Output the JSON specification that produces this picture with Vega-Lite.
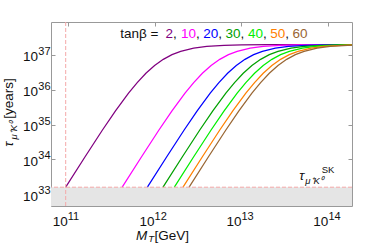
{
  "$schema": "https://vega.github.io/schema/vega-lite/v6.json",
  "width": 301,
  "height": 184,
  "autosize": {"type": "none"},
  "padding": {"left": 51, "top": 22, "right": 22, "bottom": 40},
  "config": {
    "view": {"stroke": "#999999", "strokeWidth": 1},
    "text": {"font": "Liberation Sans", "color": "#111111"},
    "axis": {"labels": false, "tickColor": "#999999", "tickSize": -4, "domain": false, "grid": false, "title": null}
  },
  "resolve": {"axis": {"x": "independent", "y": "independent"}},
  "datasets": {
    "xticks": [{"v": 1e11, "e": "11"}, {"v": 1e12, "e": "12"}, {"v": 1e13, "e": "13"}, {"v": 1e14, "e": "14"}],
    "yticks": [{"v": 1e33, "e": "33"}, {"v": 1e34, "e": "34"}, {"v": 1e35, "e": "35"}, {"v": 1e36, "e": "36"}, {"v": 1e37, "e": "37"}]
  },
  "layer": [
    {
      "data": {"values": [{"sk": 1.6e33}]},
      "mark": {"type": "rect", "color": "#e5e5e5"},
      "encoding": {
        "x": {"datum": 6.424e10, "type": "quantitative", "axis": null},
        "x2": {"datum": 1.869e14},
        "y": {"field": "sk", "type": "quantitative", "axis": null},
        "y2": {"datum": 4.613e32}
      }
    },
    {
      "data": {"values": [
        {"t": "2", "M": 9.484e10, "tau": 1.6e33}, {"t": "2", "M": 1.585e11, "tau": 1.198e34}, {"t": "2", "M": 2.512e11, "tau": 7.027e34}, {"t": "2", "M": 3.548e11, "tau": 2.495e35}, {"t": "2", "M": 5.012e11, "tau": 8.042e35}, {"t": "2", "M": 6.31e11, "tau": 1.618e36}, {"t": "2", "M": 7.943e11, "tau": 2.986e36}, {"t": "2", "M": 1.0e12, "tau": 4.989e36}, {"t": "2", "M": 1.259e12, "tau": 7.499e36}, {"t": "2", "M": 1.585e12, "tau": 1.0205e37}, {"t": "2", "M": 1.995e12, "tau": 1.2747e37}, {"t": "2", "M": 2.818e12, "tau": 1.574e37}, {"t": "2", "M": 3.981e12, "tau": 1.766e37}, {"t": "2", "M": 6.31e12, "tau": 1.899e37}, {"t": "2", "M": 1.0e13, "tau": 1.956e37}, {"t": "2", "M": 1.995e13, "tau": 1.985e37}, {"t": "2", "M": 5.012e13, "tau": 1.995e37}, {"t": "2", "M": 1.869e14, "tau": 1.995e37},
        {"t": "10", "M": 4.236e11, "tau": 1.6e33}, {"t": "10", "M": 7.079e11, "tau": 1.198e34}, {"t": "10", "M": 1.122e12, "tau": 7.027e34}, {"t": "10", "M": 1.585e12, "tau": 2.495e35}, {"t": "10", "M": 2.239e12, "tau": 8.042e35}, {"t": "10", "M": 2.818e12, "tau": 1.618e36}, {"t": "10", "M": 3.548e12, "tau": 2.986e36}, {"t": "10", "M": 4.467e12, "tau": 4.989e36}, {"t": "10", "M": 5.623e12, "tau": 7.499e36}, {"t": "10", "M": 7.079e12, "tau": 1.0205e37}, {"t": "10", "M": 8.913e12, "tau": 1.2747e37}, {"t": "10", "M": 1.259e13, "tau": 1.574e37}, {"t": "10", "M": 1.778e13, "tau": 1.766e37}, {"t": "10", "M": 2.818e13, "tau": 1.899e37}, {"t": "10", "M": 4.467e13, "tau": 1.956e37}, {"t": "10", "M": 8.913e13, "tau": 1.985e37}, {"t": "10", "M": 1.869e14, "tau": 1.994e37},
        {"t": "20", "M": 8.26e11, "tau": 1.6e33}, {"t": "20", "M": 1.38e12, "tau": 1.198e34}, {"t": "20", "M": 2.188e12, "tau": 7.027e34}, {"t": "20", "M": 3.09e12, "tau": 2.495e35}, {"t": "20", "M": 4.365e12, "tau": 8.042e35}, {"t": "20", "M": 5.495e12, "tau": 1.618e36}, {"t": "20", "M": 6.918e12, "tau": 2.986e36}, {"t": "20", "M": 8.71e12, "tau": 4.989e36}, {"t": "20", "M": 1.0965e13, "tau": 7.499e36}, {"t": "20", "M": 1.38e13, "tau": 1.0205e37}, {"t": "20", "M": 1.738e13, "tau": 1.2747e37}, {"t": "20", "M": 2.455e13, "tau": 1.574e37}, {"t": "20", "M": 3.467e13, "tau": 1.766e37}, {"t": "20", "M": 5.495e13, "tau": 1.899e37}, {"t": "20", "M": 8.71e13, "tau": 1.956e37}, {"t": "20", "M": 1.869e14, "tau": 1.986e37},
        {"t": "30", "M": 1.25e12, "tau": 1.6e33}, {"t": "30", "M": 2.089e12, "tau": 1.198e34}, {"t": "30", "M": 3.311e12, "tau": 7.027e34}, {"t": "30", "M": 4.677e12, "tau": 2.495e35}, {"t": "30", "M": 6.607e12, "tau": 8.042e35}, {"t": "30", "M": 8.318e12, "tau": 1.618e36}, {"t": "30", "M": 1.047e13, "tau": 2.986e36}, {"t": "30", "M": 1.318e13, "tau": 4.989e36}, {"t": "30", "M": 1.66e13, "tau": 7.499e36}, {"t": "30", "M": 2.089e13, "tau": 1.0205e37}, {"t": "30", "M": 2.63e13, "tau": 1.2747e37}, {"t": "30", "M": 3.715e13, "tau": 1.574e37}, {"t": "30", "M": 5.248e13, "tau": 1.766e37}, {"t": "30", "M": 8.318e13, "tau": 1.899e37}, {"t": "30", "M": 1.318e14, "tau": 1.956e37}, {"t": "30", "M": 1.869e14, "tau": 1.975e37},
        {"t": "40", "M": 1.687e12, "tau": 1.6e33}, {"t": "40", "M": 2.818e12, "tau": 1.198e34}, {"t": "40", "M": 4.467e12, "tau": 7.027e34}, {"t": "40", "M": 6.31e12, "tau": 2.495e35}, {"t": "40", "M": 8.913e12, "tau": 8.042e35}, {"t": "40", "M": 1.122e13, "tau": 1.618e36}, {"t": "40", "M": 1.413e13, "tau": 2.986e36}, {"t": "40", "M": 1.778e13, "tau": 4.989e36}, {"t": "40", "M": 2.239e13, "tau": 7.499e36}, {"t": "40", "M": 2.818e13, "tau": 1.0205e37}, {"t": "40", "M": 3.548e13, "tau": 1.2747e37}, {"t": "40", "M": 5.012e13, "tau": 1.574e37}, {"t": "40", "M": 7.079e13, "tau": 1.766e37}, {"t": "40", "M": 1.122e14, "tau": 1.899e37}, {"t": "40", "M": 1.869e14, "tau": 1.96e37},
        {"t": "50", "M": 2.123e12, "tau": 1.6e33}, {"t": "50", "M": 3.548e12, "tau": 1.198e34}, {"t": "50", "M": 5.623e12, "tau": 7.027e34}, {"t": "50", "M": 7.943e12, "tau": 2.495e35}, {"t": "50", "M": 1.122e13, "tau": 8.042e35}, {"t": "50", "M": 1.413e13, "tau": 1.618e36}, {"t": "50", "M": 1.778e13, "tau": 2.986e36}, {"t": "50", "M": 2.239e13, "tau": 4.989e36}, {"t": "50", "M": 2.818e13, "tau": 7.499e36}, {"t": "50", "M": 3.548e13, "tau": 1.0205e37}, {"t": "50", "M": 4.467e13, "tau": 1.2747e37}, {"t": "50", "M": 6.31e13, "tau": 1.574e37}, {"t": "50", "M": 8.913e13, "tau": 1.766e37}, {"t": "50", "M": 1.413e14, "tau": 1.899e37}, {"t": "50", "M": 1.869e14, "tau": 1.939e37},
        {"t": "60", "M": 2.495e12, "tau": 1.6e33}, {"t": "60", "M": 4.169e12, "tau": 1.198e34}, {"t": "60", "M": 6.607e12, "tau": 7.027e34}, {"t": "60", "M": 9.333e12, "tau": 2.495e35}, {"t": "60", "M": 1.318e13, "tau": 8.042e35}, {"t": "60", "M": 1.66e13, "tau": 1.618e36}, {"t": "60", "M": 2.089e13, "tau": 2.986e36}, {"t": "60", "M": 2.63e13, "tau": 4.989e36}, {"t": "60", "M": 3.311e13, "tau": 7.499e36}, {"t": "60", "M": 4.169e13, "tau": 1.0205e37}, {"t": "60", "M": 5.248e13, "tau": 1.2747e37}, {"t": "60", "M": 7.413e13, "tau": 1.574e37}, {"t": "60", "M": 1.047e14, "tau": 1.766e37}, {"t": "60", "M": 1.66e14, "tau": 1.899e37}, {"t": "60", "M": 1.869e14, "tau": 1.919e37}
      ]},
      "mark": {"type": "line", "strokeWidth": 1.25, "clip": true},
      "encoding": {
        "x": {"field": "M", "type": "quantitative", "scale": {"type": "log", "domain": [6.424e10, 1.869e14], "nice": false, "zero": false},
              "axis": {"orient": "bottom", "values": [1e11, 1e12, 1e13, 1e14]}},
        "y": {"field": "tau", "type": "quantitative", "scale": {"type": "log", "domain": [4.613e32, 8.862e37], "nice": false, "zero": false},
              "axis": {"orient": "left", "values": [1e33, 1e34, 1e35, 1e36, 1e37]}},
        "color": {"field": "t", "type": "nominal", "legend": null,
                  "scale": {"domain": ["2", "10", "20", "30", "40", "50", "60"], "range": ["#800080", "#ff00ff", "#0000ff", "#00a000", "#00ee00", "#ff8000", "#996633"]}},
        "detail": {"field": "t"}
      }
    },
    {
      "data": {"values": [{"sk": 1.6e33}]},
      "mark": {"type": "rule", "color": "#f4a8a8", "strokeDash": [4, 2], "strokeWidth": 1},
      "encoding": {
        "y": {"field": "sk", "type": "quantitative", "axis": {"orient": "right", "values": [1e33, 1e34, 1e35, 1e36, 1e37]}}
      }
    },
    {
      "data": {"values": [{"Mmin": 9.484e10}]},
      "mark": {"type": "rule", "color": "#f4a8a8", "strokeDash": [4, 2], "strokeWidth": 1},
      "encoding": {
        "x": {"field": "Mmin", "type": "quantitative", "axis": {"orient": "top", "values": [1e11, 1e12, 1e13, 1e14]}}
      }
    },
    {
      "data": {"name": "xticks"},
      "mark": {"type": "text", "text": "10", "align": "right", "baseline": "alphabetic", "fontSize": 13.5},
      "encoding": {"x": {"field": "v", "type": "quantitative", "axis": null}, "y": {"datum": 1.23e32, "type": "quantitative", "axis": null}}
    },
    {
      "data": {"name": "xticks"},
      "mark": {"type": "text", "align": "left", "baseline": "alphabetic", "fontSize": 11},
      "encoding": {"text": {"field": "e"}, "x": {"field": "v", "type": "quantitative", "axis": null}, "y": {"datum": 1.888e32, "type": "quantitative", "axis": null}}
    },
    {
      "data": {"name": "yticks"},
      "mark": {"type": "text", "text": "10", "align": "right", "baseline": "alphabetic", "fontSize": 13.5, "dy": 6.5},
      "encoding": {"y": {"field": "v", "type": "quantitative", "axis": null}, "x": {"datum": 4.552e10, "type": "quantitative", "axis": null}}
    },
    {
      "data": {"name": "yticks"},
      "mark": {"type": "text", "align": "left", "baseline": "alphabetic", "fontSize": 11},
      "encoding": {"text": {"field": "e"}, "y": {"field": "v", "type": "quantitative", "axis": null}, "x": {"datum": 4.589e10, "type": "quantitative", "axis": null}}
    },
    {
      "data": {"values": [{}]},
      "mark": {"type": "text", "text": "tanβ =", "align": "right", "baseline": "alphabetic", "fontSize": 13.5},
      "encoding": {"x": {"datum": 1.109e12, "type": "quantitative", "axis": null}, "y": {"datum": 3.018e37, "type": "quantitative", "axis": null}}
    },
    {"data": {"values": [{}]}, "mark": {"type": "text", "text": "2", "align": "left", "baseline": "alphabetic", "fontSize": 13.5, "color": "#800080"},
     "encoding": {"x": {"datum": 1.335e12, "type": "quantitative", "axis": null}, "y": {"datum": 3.018e37, "type": "quantitative", "axis": null}}},
    {"data": {"values": [{}]}, "mark": {"type": "text", "text": "10", "align": "left", "baseline": "alphabetic", "fontSize": 13.5, "color": "#ff00ff"},
     "encoding": {"x": {"datum": 2.013e12, "type": "quantitative", "axis": null}, "y": {"datum": 3.018e37, "type": "quantitative", "axis": null}}},
    {"data": {"values": [{}]}, "mark": {"type": "text", "text": "20", "align": "left", "baseline": "alphabetic", "fontSize": 13.5, "color": "#0000ff"},
     "encoding": {"x": {"datum": 3.634e12, "type": "quantitative", "axis": null}, "y": {"datum": 3.018e37, "type": "quantitative", "axis": null}}},
    {"data": {"values": [{}]}, "mark": {"type": "text", "text": "30", "align": "left", "baseline": "alphabetic", "fontSize": 13.5, "color": "#00a000"},
     "encoding": {"x": {"datum": 6.561e12, "type": "quantitative", "axis": null}, "y": {"datum": 3.018e37, "type": "quantitative", "axis": null}}},
    {"data": {"values": [{}]}, "mark": {"type": "text", "text": "40", "align": "left", "baseline": "alphabetic", "fontSize": 13.5, "color": "#00ee00"},
     "encoding": {"x": {"datum": 1.185e13, "type": "quantitative", "axis": null}, "y": {"datum": 3.018e37, "type": "quantitative", "axis": null}}},
    {"data": {"values": [{}]}, "mark": {"type": "text", "text": "50", "align": "left", "baseline": "alphabetic", "fontSize": 13.5, "color": "#ff8000"},
     "encoding": {"x": {"datum": 2.14e13, "type": "quantitative", "axis": null}, "y": {"datum": 3.018e37, "type": "quantitative", "axis": null}}},
    {"data": {"values": [{}]}, "mark": {"type": "text", "text": "60", "align": "left", "baseline": "alphabetic", "fontSize": 13.5, "color": "#996633"},
     "encoding": {"x": {"datum": 3.862e13, "type": "quantitative", "axis": null}, "y": {"datum": 3.018e37, "type": "quantitative", "axis": null}}},
    {"data": {"values": [{}]}, "mark": {"type": "text", "text": ",", "align": "left", "baseline": "alphabetic", "fontSize": 13.5},
     "encoding": {"x": {"datum": 1.628e12, "type": "quantitative", "axis": null}, "y": {"datum": 3.018e37, "type": "quantitative", "axis": null}}},
    {"data": {"values": [{}]}, "mark": {"type": "text", "text": ",", "align": "left", "baseline": "alphabetic", "fontSize": 13.5},
     "encoding": {"x": {"datum": 2.995e12, "type": "quantitative", "axis": null}, "y": {"datum": 3.018e37, "type": "quantitative", "axis": null}}},
    {"data": {"values": [{}]}, "mark": {"type": "text", "text": ",", "align": "left", "baseline": "alphabetic", "fontSize": 13.5},
     "encoding": {"x": {"datum": 5.408e12, "type": "quantitative", "axis": null}, "y": {"datum": 3.018e37, "type": "quantitative", "axis": null}}},
    {"data": {"values": [{}]}, "mark": {"type": "text", "text": ",", "align": "left", "baseline": "alphabetic", "fontSize": 13.5},
     "encoding": {"x": {"datum": 9.763e12, "type": "quantitative", "axis": null}, "y": {"datum": 3.018e37, "type": "quantitative", "axis": null}}},
    {"data": {"values": [{}]}, "mark": {"type": "text", "text": ",", "align": "left", "baseline": "alphabetic", "fontSize": 13.5},
     "encoding": {"x": {"datum": 1.764e13, "type": "quantitative", "axis": null}, "y": {"datum": 3.018e37, "type": "quantitative", "axis": null}}},
    {"data": {"values": [{}]}, "mark": {"type": "text", "text": ",", "align": "left", "baseline": "alphabetic", "fontSize": 13.5},
     "encoding": {"x": {"datum": 3.184e13, "type": "quantitative", "axis": null}, "y": {"datum": 3.018e37, "type": "quantitative", "axis": null}}},
    {"data": {"values": [{}]}, "mark": {"type": "text", "text": "τ", "align": "left", "baseline": "alphabetic", "fontSize": 13.5, "fontStyle": "italic"},
     "encoding": {"x": {"datum": 4.626e13, "type": "quantitative", "axis": null}, "y": {"datum": 2.574e33, "type": "quantitative", "axis": null}}},
    {"data": {"values": [{}]}, "mark": {"type": "text", "text": "μ⁺K⁰", "align": "left", "baseline": "alphabetic", "fontSize": 9.5, "fontStyle": "italic"},
     "encoding": {"x": {"datum": 5.423e13, "type": "quantitative", "axis": null}, "y": {"datum": 2.042e33, "type": "quantitative", "axis": null}}},
    {"data": {"values": [{}]}, "mark": {"type": "text", "text": "SK", "align": "left", "baseline": "alphabetic", "fontSize": 9.5},
     "encoding": {"x": {"datum": 8.374e13, "type": "quantitative", "axis": null}, "y": {"datum": 4.009e33, "type": "quantitative", "axis": null}}},
    {"data": {"values": [{}]}, "mark": {"type": "text", "text": "M", "align": "left", "baseline": "alphabetic", "fontSize": 13.5, "fontStyle": "italic"},
     "encoding": {"x": {"datum": 6.11e11, "type": "quantitative", "axis": null}, "y": {"datum": 5.035e31, "type": "quantitative", "axis": null}}},
    {"data": {"values": [{}]}, "mark": {"type": "text", "text": "T", "align": "left", "baseline": "alphabetic", "fontSize": 9.5, "fontStyle": "italic"},
     "encoding": {"x": {"datum": 8.463e11, "type": "quantitative", "axis": null}, "y": {"datum": 4.13e31, "type": "quantitative", "axis": null}}},
    {"data": {"values": [{}]}, "mark": {"type": "text", "text": "[GeV]", "align": "left", "baseline": "alphabetic", "fontSize": 13.5},
     "encoding": {"x": {"datum": 9.97e11, "type": "quantitative", "axis": null}, "y": {"datum": 5.035e31, "type": "quantitative", "axis": null}}},
    {"data": {"values": [{}]}, "mark": {"type": "text", "text": "τ", "align": "left", "baseline": "alphabetic", "fontSize": 13.5, "fontStyle": "italic", "angle": 270},
     "encoding": {"x": {"datum": 2.366e10, "type": "quantitative", "axis": null}, "y": {"datum": 2.328e34, "type": "quantitative", "axis": null}}},
    {"data": {"values": [{}]}, "mark": {"type": "text", "text": "μ⁺K⁰", "align": "left", "baseline": "alphabetic", "fontSize": 9.5, "fontStyle": "italic", "angle": 270},
     "encoding": {"x": {"datum": 2.576e10, "type": "quantitative", "axis": null}, "y": {"datum": 3.746e34, "type": "quantitative", "axis": null}}},
    {"data": {"values": [{}]}, "mark": {"type": "text", "text": "[years]", "align": "left", "baseline": "alphabetic", "fontSize": 13.5, "angle": 270},
     "encoding": {"x": {"datum": 2.366e10, "type": "quantitative", "axis": null}, "y": {"datum": 1.472e35, "type": "quantitative", "axis": null}}}
  ]
}
